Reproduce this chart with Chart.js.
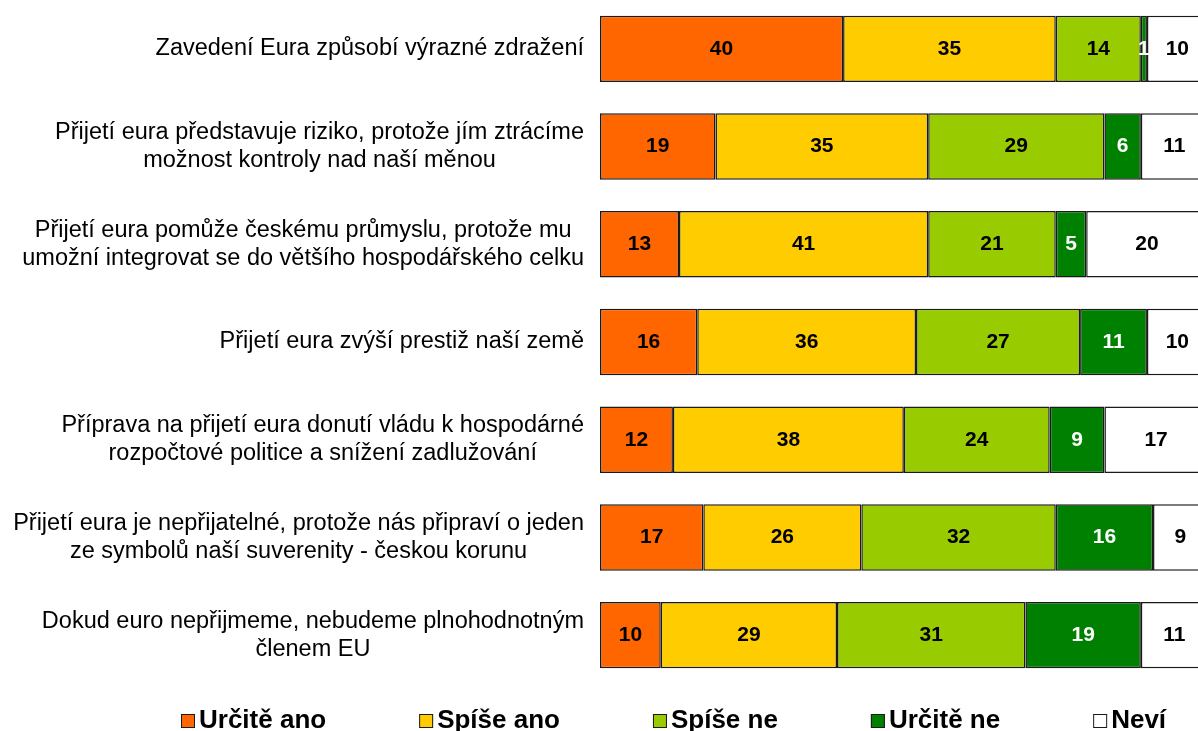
<!DOCTYPE html>
<html>
<head>
<meta charset="utf-8">
<title>Euro</title>
<script src="https://cdn.jsdelivr.net/npm/chart.js"></script>
<style>
  html, body { margin: 0; padding: 0; background: #fff; }
  #wrap { width: 1198px; height: 731px; }
</style>
</head>
<body>
<div id="wrap"><canvas id="myChart"></canvas></div>
<script>
// categories (one array per line of the label)
var labels = [
	["Zavedení Eura způsobí výrazné zdražení"],
	["Přijetí eura představuje riziko, protože jím ztrácíme", "možnost kontroly nad naší měnou"],
	["Přijetí eura pomůže českému průmyslu, protože mu", "umožní integrovat se do většího hospodářského celku"],
	["Přijetí eura zvýší prestiž naší země"],
	["Příprava na přijetí eura donutí vládu k hospodárné", "rozpočtové politice a snížení zadlužování"],
	["Přijetí eura je nepřijatelné, protože nás připraví o jeden", "ze symbolů naší suverenity - českou korunu"],
	["Dokud euro nepřijmeme, nebudeme plnohodnotným", "členem EU"]
];

var seriesNames = ["Určitě ano", "Spíše ano", "Spíše ne", "Určitě ne", "Neví"];

var urciteAno = [40, 19, 13, 16, 12, 17, 10];
var spiseAno = [35, 35, 41, 36, 38, 26, 29];
var spiseNe = [14, 29, 21, 27, 24, 32, 31];
var urciteNe = [1, 6, 5, 11, 9, 16, 19];
var nevi = [10, 11, 20, 10, 17, 9, 11];

var colors = ["#FF6600", "#FFCC00", "#99CC00", "#008000", "#FFFFFF"];
var labelColors = ["#000", "#000", "#000", "#fff", "#000"];

var FONT = "'Liberation Sans', Arial, sans-serif";

var allSeries = [urciteAno, spiseAno, spiseNe, urciteNe, nevi];
var datasets = [];
for (var i = 0; i < allSeries.length; i++) {
	datasets.push({
		label: seriesNames[i],
		data: allSeries[i],
		backgroundColor: colors[i],
		borderColor: "#1a1a1a",
		borderWidth: 1.5,
		borderSkipped: false,
		barPercentage: 0.68,
		categoryPercentage: 1,
		clip: { left: 3, top: 3, right: 0, bottom: 3 }
	});
}

// numbers in the middle of each segment
var valueLabels = {
	id: "valueLabels",
	afterDatasetsDraw: function(chart) {
		var ctx = chart.ctx;
		ctx.save();
		ctx.font = "bold 21px " + FONT;
		ctx.textAlign = "center";
		ctx.textBaseline = "middle";
		chart.data.datasets.forEach(function(ds, di) {
			var meta = chart.getDatasetMeta(di);
			ctx.fillStyle = labelColors[di];
			meta.data.forEach(function(bar, j) {
				var p = bar.getCenterPoint();
				ctx.fillText(ds.data[j], p.x, p.y);
			});
		});
		ctx.restore();
	}
};

// category labels: block right aligned, lines centered inside the block
var categoryLabels = {
	id: "categoryLabels",
	afterDraw: function(chart) {
		var ctx = chart.ctx;
		var y = chart.scales.y;
		var right = chart.chartArea.left - 16;
		var lineH = 28;
		ctx.save();
		ctx.font = "23.5px " + FONT;
		ctx.fillStyle = "#000";
		ctx.textAlign = "center";
		ctx.textBaseline = "middle";
		chart.data.labels.forEach(function(lines, i) {
			var w = 0;
			lines.forEach(function(l) { w = Math.max(w, ctx.measureText(l).width); });
			var cx = right - w / 2;
			var cy = y.getPixelForValue(i);
			var top = cy - (lines.length - 1) * lineH / 2;
			lines.forEach(function(l, k) {
				ctx.fillText(l, cx, top + k * lineH);
			});
		});
		ctx.restore();
	}
};

// legend under the bars
var bottomLegend = {
	id: "bottomLegend",
	afterDraw: function(chart) {
		var ctx = chart.ctx;
		var x = 181;
		var cy = 721;
		var box = 14;
		ctx.save();
		ctx.font = "bold 26px " + FONT;
		ctx.textBaseline = "middle";
		ctx.textAlign = "left";
		chart.data.datasets.forEach(function(ds) {
			ctx.fillStyle = ds.backgroundColor;
			ctx.fillRect(x, cy - box / 2, box, box);
			ctx.strokeStyle = "#1a1a1a";
			ctx.lineWidth = 1;
			ctx.strokeRect(x + 0.5, cy - box / 2 + 0.5, box - 1, box - 1);
			ctx.fillStyle = "#000";
			ctx.fillText(ds.label, x + box + 4, cy);
			x += box + 4 + ctx.measureText(ds.label).width + 93;
		});
		ctx.restore();
	}
};

var chart = new Chart(document.getElementById("myChart"), {
	type: "bar",
	data: { labels: labels, datasets: datasets },
	options: {
		indexAxis: "y",
		responsive: true,
		maintainAspectRatio: false,
		animation: false,
		layout: { padding: { left: 600, right: 0, top: -3, bottom: 47 } },
		scales: {
			x: { stacked: true, min: 0, max: 98.4, display: false },
			y: { stacked: true, display: false }
		},
		plugins: {
			legend: { display: false },
			tooltip: { enabled: false }
		}
	},
	plugins: [valueLabels, categoryLabels, bottomLegend]
});
</script>
</body>
</html>
